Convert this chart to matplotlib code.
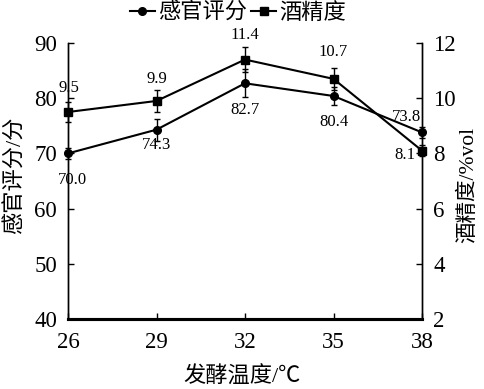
import matplotlib
matplotlib.use("Agg")
import matplotlib.pyplot as plt
from matplotlib.lines import Line2D

plt.rcParams['font.family'] = ['Liberation Serif', 'Noto Sans CJK SC']

temps = [26, 29, 32, 35, 38]
score = [70.0, 74.3, 82.7, 80.4, 73.8]
score_err = [1.0, 2.0, 2.5, 1.7, 1.0]
alcohol = [9.5, 9.9, 11.4, 10.7, 8.1]
alcohol_err = [0.35, 0.4, 0.45, 0.4, 0.2]

W, H = 484, 389
fig = plt.figure(figsize=(W / 100, H / 100), dpi=100)
ax = fig.add_axes([68 / W, 1 - 319 / H, (422 - 68) / W, (319 - 43) / H])
ax2 = ax.twinx()

ax.errorbar(temps, score, yerr=score_err, color='black', marker='o', markersize=5.5,
            lw=1.5, capsize=2.5, elinewidth=1.0, clip_on=False, zorder=3)
ax2.errorbar(temps, alcohol, yerr=alcohol_err, color='black', marker='s', markersize=6,
             lw=1.5, capsize=2.5, elinewidth=1.0, clip_on=False, zorder=3)

ax.set_xlim(26, 38)
ax.set_ylim(40, 90)
ax2.set_ylim(2, 12)
ax.set_xticks(temps)
ax.set_yticks([40, 50, 60, 70, 80, 90])
ax2.set_yticks([2, 4, 6, 8, 10, 12])

for a in (ax, ax2):
    a.spines['top'].set_visible(False)
    a.spines['left'].set_linewidth(1.0)
    a.spines['right'].set_linewidth(1.0)
    a.spines['bottom'].set_linewidth(2.2)
    a.tick_params(direction='in', length=4, width=1, labelsize=16.5, pad=8)
ax.tick_params(axis='x', pad=9)

fig.text(242 / W, 1 - 377 / H, '发酵温度/℃', fontsize=16, ha='center', va='center')
fig.text(15 / W, 1 - 175 / H, '感官评分/分', fontsize=16, ha='center', va='center',
         rotation=90)
fig.text(468 / W, 1 - 185 / H, '酒精度/%vol', fontsize=15.5, ha='center', va='center',
         rotation=90)

# value labels
score_offsets = [(3, -19), (0, -11), (0, -19), (0, -19), (-11, 11)]
alc_offsets = [(1, 17), (0, 16), (0, 18), (0, 19), (-12, -3)]
for x, y, (dx, dy) in zip(temps, score, score_offsets):
    ax.annotate(f'{y:.1f}', (x, y), xytext=(dx, dy), textcoords='offset points',
                ha='center', va='center', fontsize=12)
for x, y, (dx, dy) in zip(temps, alcohol, alc_offsets):
    ax2.annotate(f'{y:.1f}', (x, y), xytext=(dx, dy), textcoords='offset points',
                 ha='center', va='center', fontsize=12)

handles = [Line2D([], [], color='black', marker='o', markersize=5.5, lw=1.5),
           Line2D([], [], color='black', marker='s', markersize=6, lw=1.5)]
fig.legend(handles, ['感官评分', '酒精度'], loc='center', bbox_to_anchor=(238 / W, 1 - 13 / H),
           ncol=2, frameon=False, fontsize=16, handlelength=1.1, handletextpad=0.15,
           columnspacing=0.2, borderpad=0)

fig.savefig('out.png', dpi=100)
